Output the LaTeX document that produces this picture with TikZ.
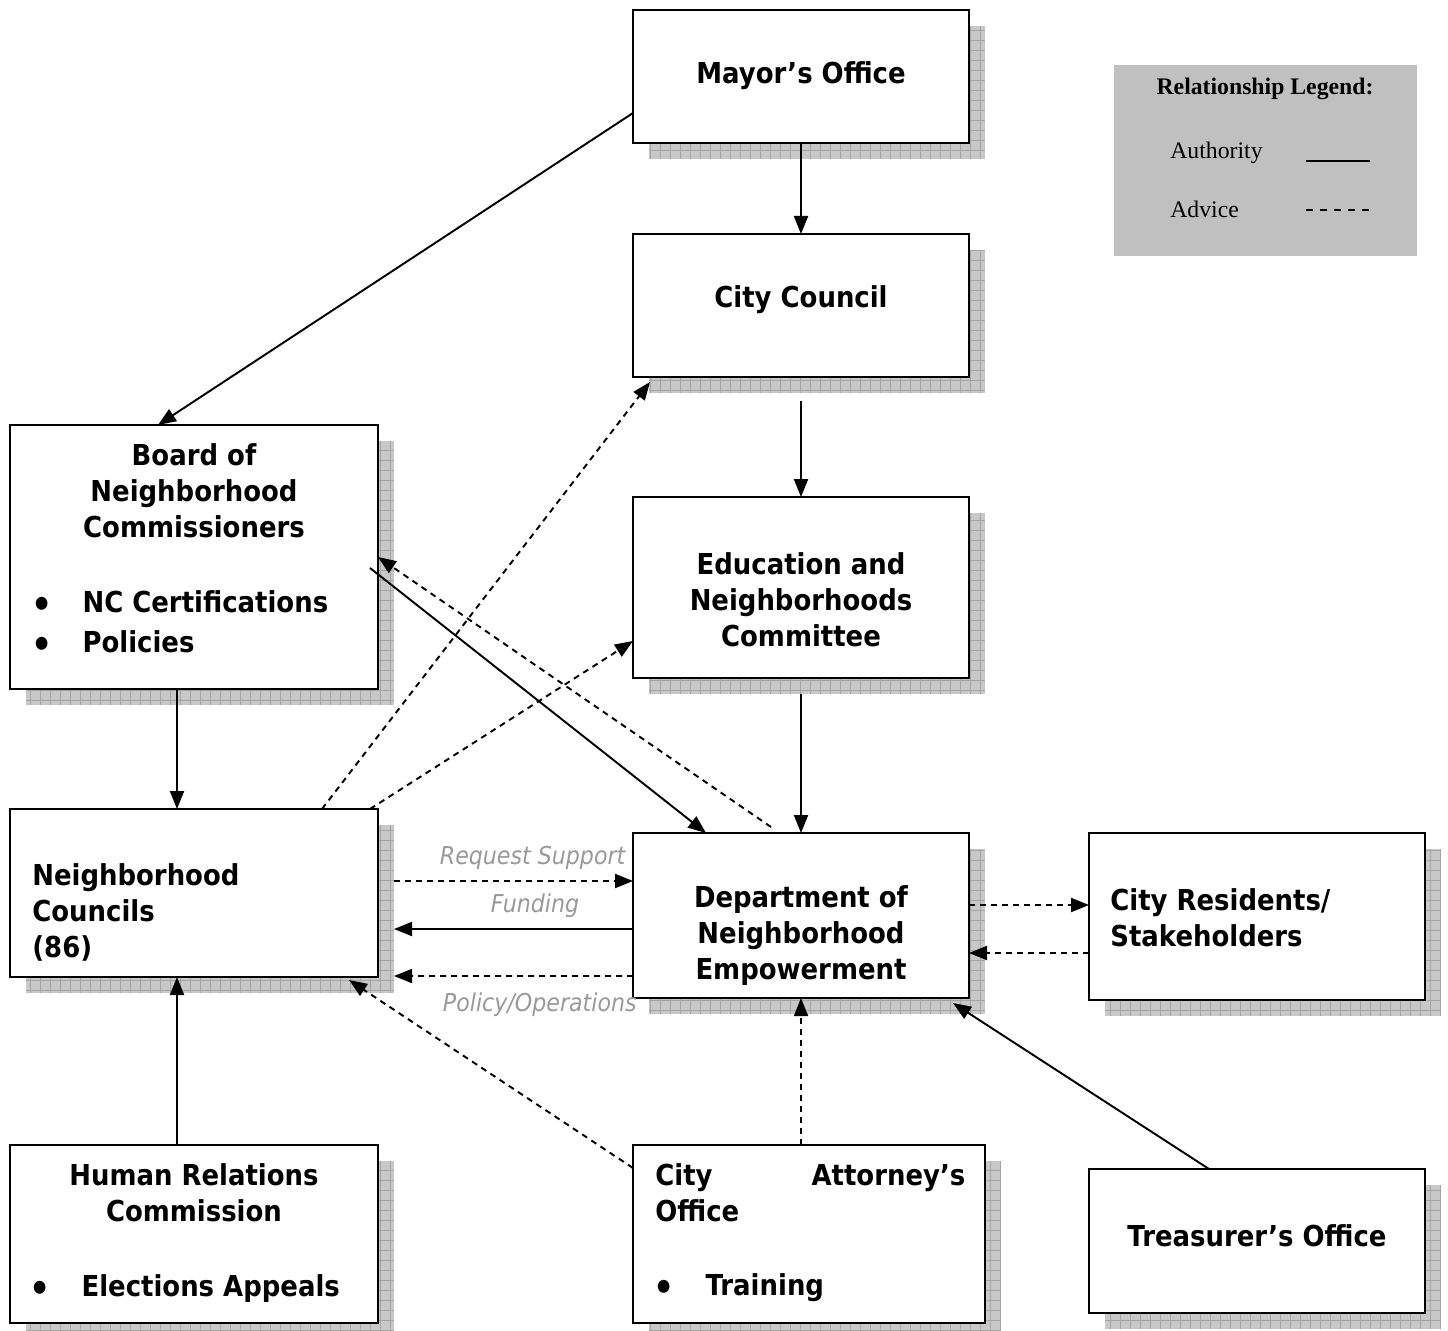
\documentclass[tikz,border=0pt]{standalone}
\usepackage{fontspec}
\setmainfont{DejaVu Sans}[FakeStretch=0.9]
\newfontfamily\legendfont{Liberation Serif}
\usetikzlibrary{arrows.meta,calc,backgrounds}

\definecolor{shadowfill}{HTML}{C8C8C8}
\definecolor{shadowline}{HTML}{A4A4A4}
\definecolor{legendfill}{HTML}{C0C0C0}
\definecolor{labelgray}{HTML}{999999}

\newcommand{\bul}{\raisebox{-2.5pt}{\fontsize{21}{20}\selectfont•}}

\tikzset{
  box/.style={draw, fill=white, line width=1.6pt, inner sep=0pt, outer sep=0pt},
  boxtext/.style={font=\fontsize{16.4}{20.5}\selectfont\bfseries, align=center, inner sep=0pt},
  authority/.style={line width=1.1pt, -{Triangle[length=3.6mm,width=2.8mm]}},
  advice/.style={authority, dash pattern=on 1.2mm off 1mm},
  linklabel/.style={font=\fontsize{14}{16}\selectfont\itshape, text=labelgray, inner sep=2pt},
  legendtext/.style={font=\legendfont\fontsize{13.5}{16}\selectfont, inner sep=0pt},
}

\begin{document}
\begin{tikzpicture}[x=0.2mm, y=-0.2mm]
  \useasboundingbox (0,0) rectangle (1448,1331);

  % boxes
  \node[box, minimum width=67.2mm, minimum height=26.6mm] (mayor) at (801,76.5) {};
  \node[box, minimum width=67.2mm, minimum height=28.6mm] (council) at (801,305.5) {};
  \node[box, minimum width=67.2mm, minimum height=36.2mm] (edu) at (801,587.5) {};
  \node[box, minimum width=73.6mm, minimum height=52.8mm] (board) at (194,557) {};
  \node[box, minimum width=73.6mm, minimum height=33.6mm] (nc) at (194,893) {};
  \node[box, minimum width=67.2mm, minimum height=33mm] (dept) at (801,915.5) {};
  \node[box, minimum width=67.2mm, minimum height=33.4mm] (res) at (1257,916.5) {};
  \node[box, minimum width=73.6mm, minimum height=35.6mm] (hrc) at (194,1234) {};
  \node[box, minimum width=70.4mm, minimum height=35.6mm] (atty) at (809,1234) {};
  \node[box, minimum width=67.2mm, minimum height=28.8mm] (treas) at (1257,1241) {};

  % hatched drop shadows
  \begin{scope}[on background layer]
    \foreach \bx in {mayor,council,edu,board,nc,dept,res,hrc,atty,treas}{
      \fill[shadowfill] ($(\bx.north west)+(16,16)$) rectangle ($(\bx.south east)+(16,16)$);
      \draw[step=2mm, shadowline, very thin] ($(\bx.north west)+(16,16)$) grid ($(\bx.south east)+(16,16)$);
    }
  \end{scope}

  % box texts
  \node[boxtext] (mayor-t) at (801,76) {Mayor’s Office};
  \node[boxtext] (council-t) at (801,300) {City Council};
  \node[boxtext] (edu-t) at (801,600) {Education and\\Neighborhoods\\Committee};
  \node[boxtext] (board-t) at (194,491) {Board of\\Neighborhood\\Commissioners};
  \node[boxtext, anchor=west, align=left] (board-b) at (31,624) {\bul\hspace{6mm}NC Certifications\\[2.3pt]\bul\hspace{6mm}Policies};
  \node[boxtext, anchor=west, align=left] (nc-t) at (32,912) {Neighborhood\\Councils\\(86)};
  \node[boxtext] (dept-t) at (801,936) {Department of\\Neighborhood\\Empowerment};
  \node[boxtext, anchor=west, align=left] (res-t) at (1110,918) {City Residents/\\Stakeholders};
  \node[boxtext] (hrc-t) at (194,1193) {Human Relations\\Commission};
  \node[boxtext, anchor=west, align=left] (hrc-b) at (29,1289) {\bul\hspace{6.2mm}Elections Appeals};
  \node[boxtext, anchor=west, align=left] (atty-t) at (655,1193) {\makebox[62mm][l]{City\hfill Attorney’s}\\Office};
  \node[boxtext, anchor=west, align=left] (atty-b) at (653,1288) {\bul\hspace{6.2mm}Training};
  \node[boxtext] (treas-t) at (1257,1236) {Treasurer’s Office};

  % legend
  \node[fill=legendfill, minimum width=60.6mm, minimum height=38.2mm, inner sep=0pt] (legend) at (1265.5,160.5) {};
  \node[legendtext, font=\legendfont\fontsize{13.5}{16}\selectfont\bfseries] (legend-t) at (1265,89) {Relationship Legend:};
  \node[legendtext, anchor=west] (auth-t) at (1170,153) {Authority};
  \node[legendtext, anchor=west] (adv-t) at (1170,209) {Advice};
  \draw[line width=1.2pt] (1306,161) -- (1370,161);
  \draw[line width=1.1pt, dash pattern=on 1.4mm off 1.4mm] (1306,210) -- (1370,210);

  % authority lines
  \draw[authority] ($(mayor.west)+(0,36.5)$) -- ($(board.north)+(-36,0)$);
  \draw[authority] (mayor.south) -- (council.north);
  \draw[authority] ($(council.south)+(0,24)$) -- (edu.north);
  \draw[authority] ($(edu.south)+(0,16)$) -- (dept.north);
  \draw[authority] ($(board.south)+(-17,0)$) -- ($(nc.north)+(-17,0)$);
  \draw[authority] ($(board.east)+(-8,11)$) -- ($(dept.north)+(-95,0)$);
  \draw[authority] ($(dept.west)+(0,13.5)$) -- ($(nc.east)+(16,36)$)
    node[linklabel, above=4pt, pos=0.41] {Funding};
  \draw[authority] ($(treas.north)+(-48,0)$) -- ($(dept.south east)+(-16,5)$);
  \draw[authority] ($(hrc.north)+(-17,0)$) -- ($(nc.south)+(-17,0)$);

  % advice lines
  \draw[advice] ($(dept.north)+(-30,-6)$) -- (board.east);
  \draw[advice] ($(nc.north)+(128,0)$) -- ($(council.south west)+(17,5)$);
  \draw[advice] ($(nc.north east)+(-8,0)$) -- ($(edu.west)+(0,53.5)$);
  \draw[advice] ($(nc.east)+(16,-12)$) -- ($(dept.west)+(0,-34.5)$)
    node[linklabel, above=4pt, pos=0.58] {Request Support};
  \draw[advice] ($(dept.west)+(0,60.5)$) -- ($(nc.east)+(16,83)$)
    node[linklabel, below=7pt, pos=0.39] {Policy/Operations};
  \draw[advice] ($(atty.north west)+(0,23)$) -- ($(nc.south)+(155,3)$);
  \draw[advice] ($(atty.north)+(-8,0)$) -- (dept.south);
  \draw[advice] ($(dept.east)+(0,-10.5)$) -- ($(res.west)+(0,-11.5)$);
  \draw[advice] ($(res.west)+(0,36.5)$) -- ($(dept.east)+(0,37.5)$);
\end{tikzpicture}
\end{document}
